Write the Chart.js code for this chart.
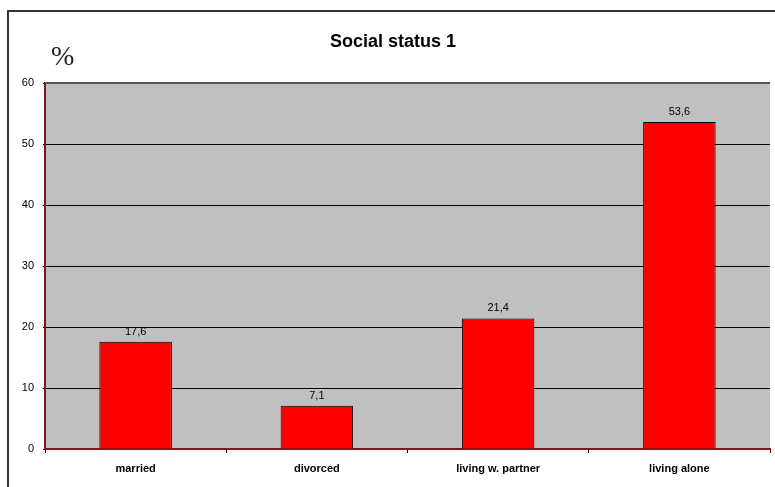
<!DOCTYPE html>
<html>
<head>
<meta charset="utf-8">
<title>Social status 1</title>
<script src="https://cdn.jsdelivr.net/npm/chart.js@4/dist/chart.umd.min.js"></script>
<style>
  html, body { margin: 0; padding: 0; background: #fff; }
  #wrap { width: 775px; height: 487px; }
</style>
</head>
<body>
<div id="wrap"><canvas id="statusChart" width="775" height="487"></canvas></div>
<script>
// --- Data ---
const categories = ['married', 'divorced', 'living w. partner', 'living alone'];
const percentValues = [17.6, 7.1, 21.4, 53.6];
const valueLabels = ['17,6', '7,1', '21,4', '53,6'];
const yTicks = [0, 10, 20, 30, 40, 50, 60];

const axisRed = '#7a1a1a';

// Frame, gray plot background, title, "%" mark and value labels
const decorPlugin = {
    id: 'decor',
    beforeDraw(chart) {
        const { ctx, chartArea: a } = chart;
        ctx.save();
        ctx.fillStyle = '#C0C0C0';
        ctx.fillRect(a.left, a.top, a.right - a.left, a.bottom - a.top);
        ctx.restore();
    },
    afterDraw(chart) {
        const { ctx, chartArea: a } = chart;
        ctx.save();

        // outer frame (top and left edges only, the rest runs off the canvas)
        ctx.strokeStyle = '#333';
        ctx.lineWidth = 2;
        ctx.beginPath();
        ctx.moveTo(8, 487);
        ctx.lineTo(8, 11);
        ctx.lineTo(775, 11);
        ctx.stroke();

        // top edge of the plot
        ctx.strokeStyle = '#555';
        ctx.lineWidth = 2;
        ctx.beginPath();
        ctx.moveTo(a.left, a.top);
        ctx.lineTo(a.right, a.top);
        ctx.stroke();

        // title
        ctx.fillStyle = '#000';
        ctx.font = 'bold 18px "Liberation Sans", Arial, sans-serif';
        ctx.textAlign = 'center';
        ctx.textBaseline = 'alphabetic';
        ctx.fillText('Social status 1', 393, 47);

        // unit
        ctx.font = '28px "Liberation Serif", "Times New Roman", serif';
        ctx.textAlign = 'left';
        ctx.fillStyle = '#222';
        ctx.fillText('%', 51, 65);

        // value labels above each bar
        ctx.fillStyle = '#000';
        ctx.font = '11px "Liberation Sans", Arial, sans-serif';
        ctx.textAlign = 'center';
        const meta = chart.getDatasetMeta(0);
        meta.data.forEach((bar, i) => {
            ctx.fillText(valueLabels[i], bar.x, bar.y - 7);
        });
        ctx.restore();
    }
};

const ctx = document.getElementById('statusChart').getContext('2d');

new Chart(ctx, {
    type: 'bar',
    data: {
        labels: categories,
        datasets: [{
            data: percentValues,
            backgroundColor: '#FF0000',
            borderColor: '#000',
            borderWidth: 1,
            barPercentage: 0.4,
            categoryPercentage: 1
        }]
    },
    options: {
        responsive: false,
        animation: false,
        layout: { padding: { top: 83, right: 5, left: 0, bottom: 0 } },
        plugins: {
            legend: { display: false },
            title: { display: false },
            tooltip: { enabled: false }
        },
        scales: {
            x: {
                grid: {
                    offset: true,
                    drawOnChartArea: false,
                    drawTicks: true,
                    tickLength: 4,
                    color: '#000'
                },
                border: { color: axisRed, width: 2 },
                ticks: {
                    color: '#000',
                    padding: 9,
                    maxRotation: 0,
                    font: { family: '"Liberation Sans", Arial, sans-serif', size: 11, weight: 'bold' }
                },
                afterFit(scale) { scale.height = 38; }
            },
            y: {
                min: 0,
                max: 60,
                afterBuildTicks(scale) {
                    scale.ticks = yTicks.map(v => ({ value: v }));
                },
                grid: { color: '#000', tickLength: 2, lineWidth: 1 },
                border: { color: axisRed, width: 2 },
                ticks: {
                    color: '#000',
                    padding: 9,
                    font: { family: '"Liberation Sans", Arial, sans-serif', size: 11 }
                },
                afterFit(scale) { scale.width = 45; }
            }
        }
    },
    plugins: [decorPlugin]
});
</script>
</body>
</html>
